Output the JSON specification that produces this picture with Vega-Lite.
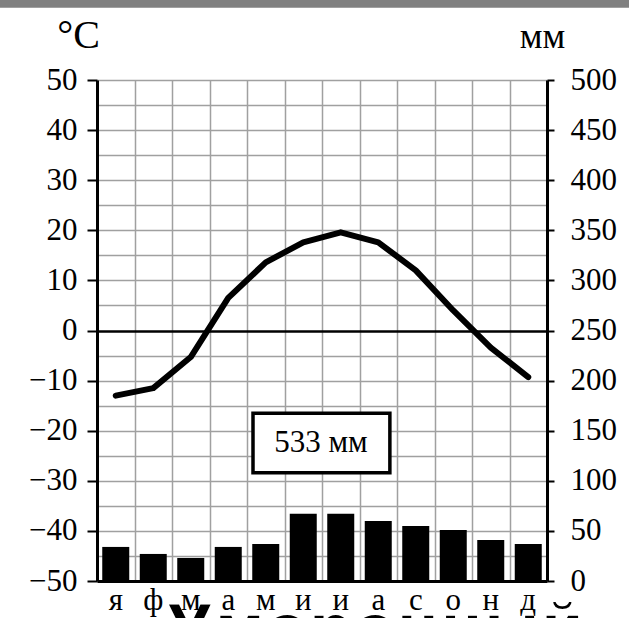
{
  "$schema": "https://vega.github.io/schema/vega-lite/v6.json",
  "width": 450,
  "height": 501,
  "autosize": {"type": "none"},
  "padding": {"left": 97, "top": 80, "right": 82, "bottom": 37},
  "background": "white",
  "config": {"view": {"stroke": null}, "font": "Liberation Serif"},
  "datasets": {
    "climate": [
      {"month": "янв", "temp": -13.0, "precip": 34},
      {"month": "фев", "temp": -11.5, "precip": 27},
      {"month": "мар", "temp": -5.3, "precip": 23},
      {"month": "апр", "temp": 6.5, "precip": 34},
      {"month": "май", "temp": 13.6, "precip": 37},
      {"month": "июн", "temp": 17.6, "precip": 67},
      {"month": "июл", "temp": 19.6, "precip": 67},
      {"month": "авг", "temp": 17.6, "precip": 60},
      {"month": "сен", "temp": 12.0, "precip": 55},
      {"month": "окт", "temp": 4.0, "precip": 51},
      {"month": "ноя", "temp": -3.4, "precip": 41},
      {"month": "дек", "temp": -9.3, "precip": 37}
    ],
    "notes": [
      {"total": "533 мм", "zone": "Умеренный"}
    ]
  },
  "layer": [
    {
      "data": {"name": "climate"},
      "mark": {"type": "bar", "color": "black", "width": {"band": 0.72}},
      "encoding": {
        "x": {
          "field": "month", "type": "nominal", "sort": null,
          "scale": {"paddingInner": 0, "paddingOuter": 0},
          "axis": {
            "orient": "bottom", "grid": false, "ticks": false,
            "domainColor": "black", "domainWidth": 3,
            "labelFont": "Liberation Serif", "labelFontSize": 31, "labelColor": "black",
            "labelAngle": 0, "labelPadding": 4,
            "labelExpr": "substring(datum.label, 0, 1)",
            "title": null, "zindex": 1
          }
        },
        "y": {
          "field": "precip", "type": "quantitative",
          "scale": {"domain": [0, 500], "nice": false, "zero": true},
          "axis": {
            "orient": "right",
            "values": [0, 50, 100, 150, 200, 250, 300, 350, 400, 450, 500],
            "grid": false, "tickSize": 7, "tickWidth": 2, "tickColor": "black",
            "domainColor": "black", "domainWidth": 3,
            "labelFont": "Liberation Serif", "labelFontSize": 31, "labelColor": "black",
            "labelPadding": 16, "labelOverlap": false, "labelFlush": false,
            "title": "мм", "titleAngle": 0, "titleX": -5, "titleY": -33,
            "titleAlign": "center", "titleBaseline": "alphabetic",
            "titleFont": "Liberation Serif", "titleFontSize": 36, "titleFontWeight": "normal", "titleColor": "black"
          }
        }
      }
    },
    {
      "data": {"name": "climate"},
      "mark": {"type": "line", "color": "black", "strokeWidth": 6, "strokeJoin": "round", "strokeCap": "round"},
      "encoding": {
        "x": {
          "field": "month", "type": "nominal", "sort": null,
          "scale": {"type": "point", "padding": 0.5},
          "axis": null
        },
        "y": {
          "field": "temp", "type": "quantitative",
          "scale": {"domain": [-50, 50], "nice": false, "zero": false},
          "axis": {
            "orient": "left",
            "values": [-50, -45, -40, -35, -30, -25, -20, -15, -10, -5, 0, 5, 10, 15, 20, 25, 30, 35, 40, 45, 50],
            "grid": true,
            "gridColor": {"condition": {"test": "datum.value === 0", "value": "black"}, "value": "#a0a0a0"},
            "gridWidth": {"condition": {"test": "datum.value === 0", "value": 2.5}, "value": 1.5},
            "tickOpacity": {"condition": {"test": "datum.value % 10 !== 0", "value": 0}, "value": 1},
            "labelExpr": "datum.value % 10 === 0 ? datum.label : ''",
            "tickSize": 10, "tickWidth": 2, "tickColor": "black",
            "domainColor": "black", "domainWidth": 3,
            "labelFont": "Liberation Serif", "labelFontSize": 31, "labelColor": "black",
            "labelPadding": 10, "labelOverlap": false, "labelFlush": false,
            "title": "°C", "titleAngle": 0, "titleX": -19, "titleY": -33,
            "titleAlign": "center", "titleBaseline": "alphabetic",
            "titleFont": "Liberation Serif", "titleFontSize": 40, "titleFontWeight": "normal", "titleColor": "black"
          }
        }
      }
    },
    {
      "data": {"name": "notes"},
      "layer": [
        {
          "mark": {"type": "rect", "fill": "white", "stroke": "black", "strokeWidth": 3.5},
          "encoding": {
            "x": {
              "datum": 4.16, "type": "quantitative",
              "scale": {"domain": [0, 12], "nice": false, "zero": false},
              "axis": {
                "orient": "top", "values": [1, 2, 3, 4, 5, 6, 7, 8, 9, 10, 11],
                "grid": true, "gridColor": "#a0a0a0", "gridWidth": 1.5,
                "labels": false, "ticks": false, "domain": false, "title": null, "zindex": 0
              }
            },
            "x2": {"datum": 7.81},
            "y": {
              "datum": -16.5, "type": "quantitative",
              "scale": {"domain": [-50, 50], "nice": false, "zero": false},
              "axis": null
            },
            "y2": {"datum": -28.4}
          }
        },
        {
          "mark": {"type": "text", "font": "Liberation Serif", "fontSize": 31, "color": "black", "align": "center", "baseline": "middle"},
          "encoding": {
            "x": {"datum": 5.97, "type": "quantitative"},
            "y": {"datum": -22.5, "type": "quantitative"},
            "text": {"field": "total"}
          }
        },
        {
          "mark": {"type": "text", "font": "DejaVu Sans", "fontWeight": "bold", "fontSize": 63, "fill": "black", "stroke": "white", "strokeWidth": 2, "align": "center", "baseline": "alphabetic"},
          "encoding": {
            "x": {"datum": 7.41, "type": "quantitative"},
            "y": {"datum": -63.6, "type": "quantitative"},
            "text": {"field": "zone"}
          }
        },
        {
          "mark": {"type": "rect", "fill": "#808080"},
          "encoding": {
            "x": {"datum": -3, "type": "quantitative"},
            "x2": {"datum": 15},
            "y": {"datum": 64.4, "type": "quantitative"},
            "y2": {"datum": 70}
          }
        }
      ]
    }
  ],
  "resolve": {
    "scale": {"x": "independent", "y": "independent"},
    "axis": {"x": "independent", "y": "independent"}
  }
}
